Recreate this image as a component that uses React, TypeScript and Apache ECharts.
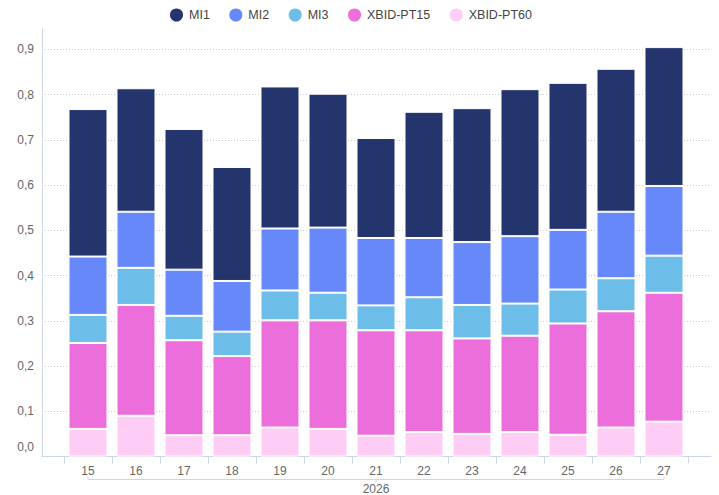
import React, { useEffect, useRef } from "react";
import * as echarts from "echarts";

const weeks = ["15", "16", "17", "18", "19", "20", "21", "22", "23", "24", "25", "26", "27"];
const yearLabel = "2026";
const yTicks = [0, 0.1, 0.2, 0.3, 0.4, 0.5, 0.6, 0.7, 0.8, 0.9];

const pt60 = [0.061, 0.09, 0.047, 0.047, 0.064, 0.061, 0.046, 0.054, 0.05, 0.054, 0.048, 0.064, 0.077];
const pt15 = [0.19, 0.245, 0.21, 0.175, 0.237, 0.24, 0.233, 0.225, 0.211, 0.213, 0.246, 0.257, 0.285];
const mi3 = [0.062, 0.082, 0.054, 0.054, 0.066, 0.061, 0.055, 0.073, 0.074, 0.071, 0.075, 0.073, 0.082];
const mi2 = [0.129, 0.124, 0.102, 0.112, 0.137, 0.144, 0.149, 0.131, 0.139, 0.149, 0.132, 0.147, 0.154];
const mi1 = [0.326, 0.273, 0.311, 0.252, 0.314, 0.296, 0.221, 0.279, 0.296, 0.325, 0.325, 0.316, 0.307];

const legendOrder = ["MI1", "MI2", "MI3", "XBID-PT15", "XBID-PT60"];
const colors: Record<string, string> = {
  MI1: "#24356e",
  MI2: "#6688f8",
  MI3: "#6dbde9",
  "XBID-PT15": "#eb6edb",
  "XBID-PT60": "#fecdf5",
};

const FONT = "'Liberation Sans', Arial, Helvetica, sans-serif";
const AXIS = "#ccd6eb";

export default function App() {
  const ref = useRef<HTMLDivElement>(null);
  useEffect(() => {
    if (!ref.current) return;
    const chart = echarts.init(ref.current, undefined, { renderer: "svg" });
    const stackSeries = [
      { name: "XBID-PT60", data: pt60 },
      { name: "XBID-PT15", data: pt15 },
      { name: "MI3", data: mi3 },
      { name: "MI2", data: mi2 },
      { name: "MI1", data: mi1 },
    ];
    const yMax = 0.945;
    chart.setOption({
      animation: false,
      textStyle: { fontFamily: FONT },
      legend: {
        data: legendOrder,
        left: 163,
        top: 1.5,
        icon: "circle",
        itemWidth: 15,
        itemHeight: 15,
        itemGap: 17.5,
        textStyle: { fontSize: 12.5, color: "#444", fontFamily: FONT },
      },
      grid: [
        { left: 42, right: 8, top: 29, bottom: 38.5 },
        { left: 64, right: 31, top: 29, bottom: 38.5 },
      ],
      xAxis: [
        {
          gridIndex: 0,
          type: "category",
          data: [""],
          axisLine: { show: true, lineStyle: { color: AXIS, width: 1 } },
          axisTick: { show: false },
          axisLabel: { show: false },
          splitLine: { show: false },
        },
        {
          gridIndex: 1,
          type: "category",
          data: weeks,
          axisLine: { show: false },
          axisTick: { show: true, length: 7, lineStyle: { color: AXIS } },
          axisLabel: { color: "#666", fontSize: 12, margin: 8, fontFamily: FONT },
          splitLine: { show: false },
        },
      ],
      yAxis: [
        {
          gridIndex: 0,
          type: "value",
          min: 0,
          max: yMax,
          interval: 0.1,
          axisLine: { show: true, lineStyle: { color: AXIS, width: 1 } },
          axisTick: { show: false },
          axisLabel: {
            color: "#666",
            fontSize: 12,
            margin: 8,
            fontFamily: FONT,
            showMaxLabel: false,
            formatter: (v: number) => {
              const isTick = yTicks.some((t) => Math.abs(t - v) < 1e-6);
              if (!isTick) return "";
              const s = v.toFixed(1).replace(".", ",");
              return v === 0 ? "{z|" + s + "}" : s;
            },
            rich: { z: { padding: [0, 0, 19, 0], color: "#666", fontSize: 12, fontFamily: FONT } },
          },
          splitLine: {
            show: true,
            showMinLine: false,
            showMaxLine: false,
            lineStyle: { color: "#c9c9c9", type: [1, 2], width: 1 },
          },
        },
        { gridIndex: 1, type: "value", min: 0, max: yMax, show: false, splitLine: { show: false } },
      ],
      series: stackSeries.map((s) => ({
        name: s.name,
        type: "bar",
        stack: "total",
        xAxisIndex: 1,
        yAxisIndex: 1,
        data: s.data,
        barCategoryGap: "18.75%",
        itemStyle: { color: colors[s.name], borderColor: "#ffffff", borderWidth: 1 },
        emphasis: { disabled: true },
      })),
    });
    const x1 = chart.convertToPixel({ xAxisIndex: 1 }, weeks[0]) as number;
    const x2 = chart.convertToPixel({ xAxisIndex: 1 }, weeks[weeks.length - 1]) as number;
    const xm = (x1 + x2) / 2;
    const by = 479.5;
    chart.setOption({
      graphic: [
        {
          type: "polyline",
          shape: { points: [[x1, by - 3], [x1, by], [x2, by], [x2, by - 3]] },
          style: { stroke: AXIS, lineWidth: 1, fill: null },
          silent: true,
        },
        {
          type: "line",
          shape: { x1: xm, y1: by, x2: xm, y2: by + 3.5 },
          style: { stroke: AXIS, lineWidth: 1 },
          silent: true,
        },
        {
          type: "text",
          x: xm,
          y: 489,
          style: {
            text: yearLabel,
            fill: "#666",
            fontSize: 12,
            fontFamily: FONT,
            align: "center",
            verticalAlign: "middle",
          },
          silent: true,
        },
      ],
    });
    return () => chart.dispose();
  }, []);
  return (
    <div
      ref={ref}
      style={{ position: "fixed", left: 0, top: 0, width: 719, height: 495, background: "#fff" }}
    />
  );
}
